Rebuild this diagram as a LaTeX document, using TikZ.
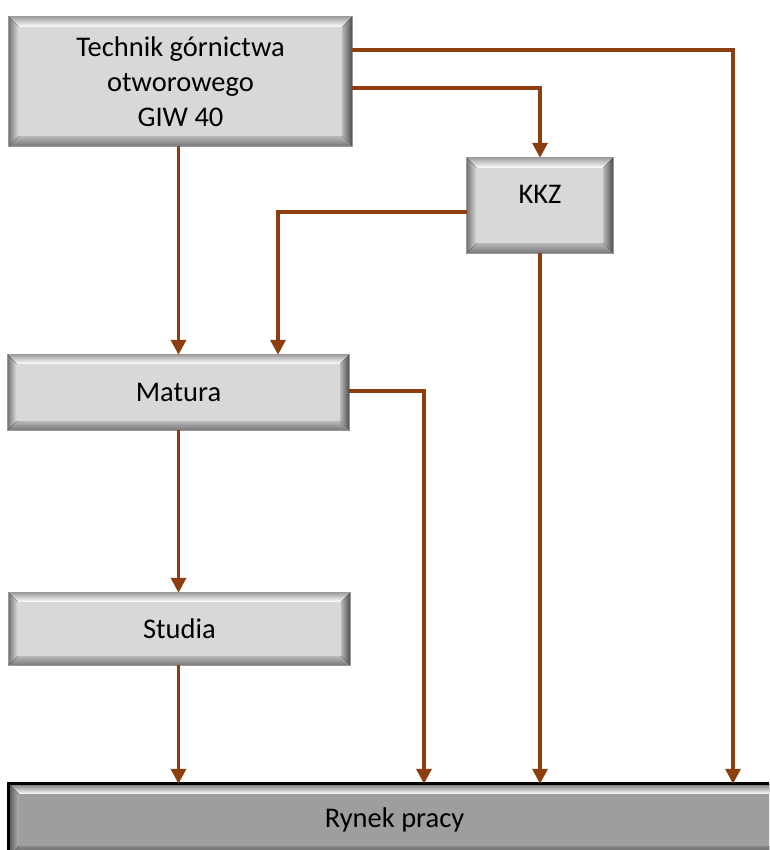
\documentclass[tikz,border=0pt]{standalone}
\usepackage{fontspec}
\setmainfont{Carlito}
\usetikzlibrary{arrows.meta,calc}
\definecolor{brn}{RGB}{140,62,16}
\definecolor{boxg}{RGB}{216,216,216}
\definecolor{rynekg}{RGB}{158,158,158}
\newcommand\bevelit[4]{%
  \path (#1.north west) coordinate (nw) (#1.north east) coordinate (ne)
        (#1.south west) coordinate (sw) (#1.south east) coordinate (se);
  \fill[top color=#3!75!black, bottom color=white] (nw) -- (ne) -- ($(ne)+(-#2,#2)$) -- ($(nw)+(#2,#2)$) -- cycle;
  \fill[left color=#3!55!black, right color=#3!80!white] (nw) -- ($(nw)+(#2,#2)$) -- ($(sw)+(#2,-#2)$) -- (sw) -- cycle;
  \fill[left color=#3!85!black, right color=#4] (ne) -- ($(ne)+(-#2,#2)$) -- ($(se)+(-#2,-#2)$) -- (se) -- cycle;
  \fill[top color=#3!85!black, bottom color=#3!55!black] (sw) -- ($(sw)+(#2,-#2)$) -- ($(se)+(-#2,-#2)$) -- (se) -- cycle;
}
\tikzset{
  box/.style={fill=boxg, inner sep=0pt, align=center, font=\fontsize{28.5}{35}\selectfont},
  conn/.style={draw=brn, line width=3.4pt, -{Triangle[width=15pt,length=15pt]}},
  edge/.style={draw=gray!80, line width=0.8pt}
}
\begin{document}
\begin{tikzpicture}[x=1pt,y=-1pt]
\useasboundingbox (0,0) rectangle (769,850);
\clip (0,0) rectangle (769,850);
\fill[white] (0,0) rectangle (769,850);
% boxes
\node[box, minimum width=343pt, minimum height=129pt] (top) at (180.5,81.5) {Technik górnictwa\\otworowego\\GIW 40};
\bevelit{top}{10}{boxg}{black!70}
\draw[edge] (top.north west) rectangle (top.south east);
\node[box, minimum width=146pt, minimum height=95pt, text depth=22pt] (kkz) at (540,205.5) {KKZ};
\bevelit{kkz}{10}{boxg}{black!70}
\draw[edge] (kkz.north west) rectangle (kkz.south east);
\node[box, minimum width=341pt, minimum height=75pt] (matura) at (178.5,392.5) {Matura};
\bevelit{matura}{9}{boxg}{black!70}
\draw[edge] (matura.north west) rectangle (matura.south east);
\node[box, minimum width=341pt, minimum height=72pt] (studia) at (179.5,629) {Studia};
\bevelit{studia}{9}{boxg}{black!70}
\draw[edge] (studia.north west) rectangle (studia.south east);
\node[box, fill=rynekg, minimum width=811pt, minimum height=72pt, xshift=0pt] (rynek) at (414.5,820) {\hspace*{-40pt}Rynek pracy};
\bevelit{rynek}{10}{rynekg}{black!60}
\draw[black, line width=3pt] (rynek.south west) -- (rynek.north west) -- (rynek.north east);
% helper coordinates
\coordinate (x733) at (733,0);
\coordinate (x278) at (278,0);
\coordinate (x424) at (424,0);
% connectors
\draw[conn] ([yshift=31.5pt]top.east) -| (x733 |- rynek.north);
\draw[conn] ([yshift=-6.5pt]top.east) -| (kkz.north);
\draw[conn] (matura.north |- top.south) -- (matura.north);
\draw[conn] ([yshift=-6.5pt]kkz.west) -| (x278 |- matura.north);
\draw[conn] (kkz.south) -- (kkz.south |- rynek.north);
\draw[conn] ([yshift=1.5pt]matura.east) -| (x424 |- rynek.north);
\draw[conn] (matura.south) -- (matura.south |- studia.north);
\draw[conn] (studia.south -| matura.south) -- (matura.south |- rynek.north);
\end{tikzpicture}
\end{document}
